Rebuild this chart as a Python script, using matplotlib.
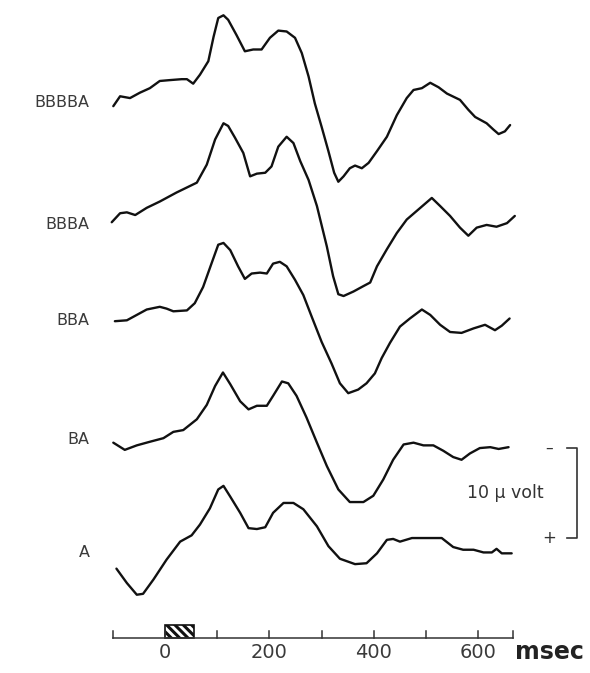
import matplotlib
matplotlib.use("Agg")
import matplotlib.pyplot as plt
from matplotlib.patches import Rectangle

### Averaged evoked potentials for the A stimulus after 0-4 preceding B's
### negative is plotted up, 10 microvolt calibration at the right

labels = ["BBBBA", "BBBA", "BBA", "BA", "A"]

# latency (msec) and amplitude (microvolt) for each trace
t_bbbba = [-99, -86, -67, -48, -29, -10, 10, 32, 42, 54, 67, 83, 93, 102, 112,
           121, 137, 153, 169, 185, 201, 217, 233, 249, 262, 275, 287, 300, 313,
           324, 332, 342, 354, 364, 377, 390, 406, 425, 444, 463, 476, 492, 508,
           524, 540, 565, 581, 594, 616, 629, 639, 651, 661]
v_bbbba = [0.7, -0.4, -0.2, -0.8, -1.3, -2.1, -2.2, -2.3, -2.3, -1.8, -2.8, -4.3,
           -7.0, -9.1, -9.4, -8.9, -7.2, -5.4, -5.6, -5.6, -6.9, -7.7, -7.6, -6.9,
           -5.2, -2.6, 0.4, 3.0, 5.7, 8.1, 9.1, 8.5, 7.6, 7.3, 7.6, 7.0, 5.7, 4.1,
           1.7, -0.2, -1.1, -1.3, -1.9, -1.4, -0.7, 0.0, 1.1, 1.9, 2.6, 3.3, 3.8,
           3.5, 2.8]

t_bbba = [-102, -86, -73, -57, -35, -10, 22, 61, 80, 96, 112, 121, 134, 150, 163,
          176, 192, 204, 217, 233, 246, 259, 275, 291, 310, 322, 332, 342, 361,
          380, 393, 406, 425, 444, 463, 489, 511, 527, 546, 565, 581, 597, 616,
          635, 655, 670]
v_bbba = [1.4, 0.4, 0.3, 0.6, -0.2, -0.9, -1.9, -3.0, -5.0, -7.8, -9.6, -9.3,
          -8.0, -6.3, -3.7, -4.0, -4.1, -4.8, -7.0, -8.1, -7.4, -5.4, -3.3, -0.4,
          4.1, 7.4, 9.4, 9.6, 9.1, 8.5, 8.1, 6.3, 4.4, 2.6, 1.1, -0.2, -1.3, -0.4,
          0.7, 2.0, 2.9, 2.0, 1.7, 1.9, 1.5, 0.7]

t_bba = [-96, -73, -54, -35, -10, 3, 16, 42, 57, 73, 89, 102, 112, 125, 140, 153,
         166, 182, 195, 207, 220, 233, 249, 265, 281, 300, 319, 335, 351, 370, 386,
         402, 415, 431, 450, 469, 492, 508, 527, 546, 568, 591, 613, 632, 645, 660]
v_bba = [0.7, 0.6, 0.0, -0.6, -0.9, -0.7, -0.4, -0.5, -1.3, -3.1, -5.7, -7.8,
         -8.0, -7.2, -5.4, -4.0, -4.6, -4.7, -4.6, -5.7, -5.9, -5.4, -3.9, -2.2,
         0.2, 3.0, 5.4, 7.6, 8.7, 8.3, 7.6, 6.5, 4.8, 3.1, 1.3, 0.4, -0.6, 0.0,
         1.1, 1.9, 2.0, 1.5, 1.1, 1.7, 1.2, 0.4]

t_ba = [-99, -77, -54, -29, -3, 16, 35, 61, 80, 96, 111, 125, 144, 160, 176, 195,
        207, 224, 236, 252, 271, 291, 310, 332, 354, 380, 399, 418, 437, 457, 476,
        495, 514, 533, 552, 568, 584, 603, 623, 639, 658]
v_ba = [-0.2, 0.6, 0.1, -0.3, -0.7, -1.4, -1.6, -2.8, -4.4, -6.5, -8.0, -6.7,
        -4.8, -3.9, -4.3, -4.3, -5.4, -7.0, -6.8, -5.4, -3.0, -0.2, 2.4, 5.0, 6.4,
        6.4, 5.7, 3.9, 1.7, 0.0, -0.2, 0.1, 0.1, 0.7, 1.4, 1.7, 1.0, 0.4, 0.3,
        0.5, 0.3]

t_a = [-93, -73, -54, -42, -22, 3, 29, 51, 67, 86, 102, 112, 125, 144, 160, 176,
       192, 207, 227, 246, 265, 291, 313, 335, 364, 386, 406, 425, 437, 450, 473,
       501, 530, 552, 571, 591, 610, 626, 635, 645, 664]
v_a = [1.0, 2.6, 3.9, 3.8, 2.2, 0.0, -2.0, -2.7, -3.9, -5.7, -7.8, -8.2, -7.0,
       -5.2, -3.5, -3.4, -3.6, -5.2, -6.3, -6.3, -5.6, -3.7, -1.5, -0.1, 0.5, 0.4,
       -0.7, -2.2, -2.3, -2.0, -2.4, -2.4, -2.4, -1.4, -1.1, -1.1, -0.8, -0.8,
       -1.2, -0.7, -0.7]

times = [t_bbbba, t_bbba, t_bba, t_ba, t_a]
volts = [v_bbbba, v_bbba, v_bba, v_ba, v_a]

# time axis
tick_ms = [-100, 0, 100, 200, 300, 400, 500, 600]
tick_labels = ["0", "200", "400", "600"]
tick_label_ms = [0, 200, 400, 600]
axis_end = 667
stim_on, stim_off = 0, 55
cal_uv = 10

#### layout (vertical units are microvolts, counted downward) ####
rows = [11.1, 23.3, 35.0, 49.4, 62.2]
label_rows = [11.4, 25.0, 35.6, 48.9, 61.4]
axis_y = 70.9
tick_h = 0.8
cal_top = 49.8
cal_x = 789

plt.rcParams["hatch.linewidth"] = 2.2

fig = plt.figure(figsize=(5.9, 6.73), dpi=100)
ax = fig.add_axes([0, 0, 1, 1])
ax.set_xlim(-316, 814)
ax.set_ylim(74.8, 0)
ax.axis("off")

for t, v, r in zip(times, volts, rows):
    ax.plot(t, [r + x for x in v], color="#111111", lw=1.7,
            solid_joinstyle="round", solid_capstyle="round")

for lab, r in zip(labels, label_rows):
    ax.text(-144, r, lab, ha="right", va="center", fontsize=11.5,
            color="#3a3a3a")

# time axis with hatched stimulus bar
ax.plot([-100, axis_end], [axis_y, axis_y], color="#333333", lw=1.1)
for tm in tick_ms + [axis_end]:
    ax.plot([tm, tm], [axis_y, axis_y - tick_h], color="#333333", lw=1.1)
ax.add_patch(Rectangle((stim_on, axis_y - 1.4), stim_off - stim_on, 1.4,
                       facecolor="white", edgecolor="#111111", lw=1.2,
                       hatch="\\\\\\\\"))
for tm, s in zip(tick_label_ms, tick_labels):
    ax.text(tm, 72.5, s, ha="center", va="center", fontsize=14,
            color="#3a3a3a")
ax.text(670, 72.5, "msec", ha="left", va="center", fontsize=17,
        fontweight="bold", color="#222222")

# calibration bracket
ax.plot([cal_x - 19, cal_x, cal_x, cal_x - 19],
        [cal_top, cal_top, cal_top + cal_uv, cal_top + cal_uv],
        color="#333333", lw=1.2)
ax.text(735, cal_top, "\u2013", ha="center", va="center", fontsize=11,
        color="#333333")
ax.text(736, cal_top + cal_uv, "+", ha="center", va="center", fontsize=12,
        color="#333333")
ax.text(651, cal_top + cal_uv / 2, "10 \u03bc volt", ha="center", va="center",
        fontsize=12.5, color="#333333")

fig.savefig("out.png", dpi=100)
